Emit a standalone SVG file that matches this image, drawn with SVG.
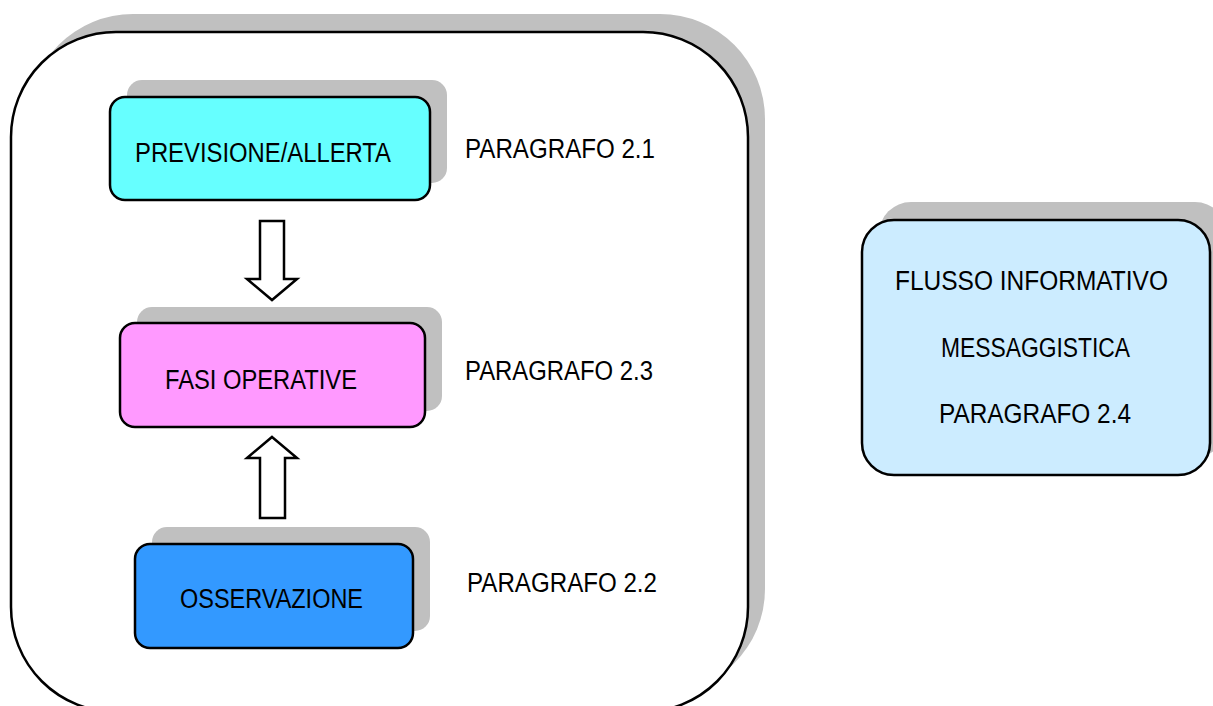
<svg xmlns="http://www.w3.org/2000/svg" width="1213" height="706" viewBox="0 0 1213 706">
<style>
.shadow{fill:#C0C0C0;stroke:none}
.box{stroke:#000;stroke-width:2.5}
.lbl{font-family:"Liberation Sans",Arial,sans-serif;font-size:27px;fill:#000}
.arrow{fill:#fff;stroke:#000;stroke-width:2.5;stroke-linejoin:miter}
</style>
<rect width="1213" height="706" fill="#fff"/>
<g id="container">
<rect class="shadow" x="28" y="14" width="737" height="680" rx="105" ry="105"/>
<rect class="box" x="11" y="32" width="737" height="680" rx="105" ry="105" fill="#fff"/>
</g>
<g id="previsione">
<rect class="shadow" x="127" y="80" width="320" height="103" rx="15"/>
<rect class="box" x="110" y="97" width="320" height="103" rx="15" fill="#66FFFF"/>
<text class="lbl" x="135" y="162" textLength="256" lengthAdjust="spacingAndGlyphs">PREVISIONE/ALLERTA</text>
</g>
<g id="par21"><text class="lbl" x="465" y="158" textLength="190" lengthAdjust="spacingAndGlyphs">PARAGRAFO 2.1</text></g>
<g id="fasi">
<rect class="shadow" x="137" y="307" width="305" height="104" rx="15"/>
<rect class="box" x="120" y="323" width="305" height="104" rx="15" fill="#FF99FF"/>
<text class="lbl" x="165" y="389" textLength="192" lengthAdjust="spacingAndGlyphs">FASI OPERATIVE</text>
</g>
<g id="par23"><text class="lbl" x="465" y="380" textLength="188" lengthAdjust="spacingAndGlyphs">PARAGRAFO 2.3</text></g>
<g id="osservazione">
<rect class="shadow" x="152" y="527" width="278" height="104" rx="15"/>
<rect class="box" x="135" y="544" width="278" height="104" rx="15" fill="#3399FF"/>
<text class="lbl" x="180" y="608" textLength="183" lengthAdjust="spacingAndGlyphs">OSSERVAZIONE</text>
</g>
<g id="par22"><text class="lbl" x="467" y="592" textLength="190" lengthAdjust="spacingAndGlyphs">PARAGRAFO 2.2</text></g>
<g id="flusso">
<rect class="shadow" x="879" y="202" width="348" height="255" rx="32"/>
<rect class="box" x="862" y="220" width="348" height="255" rx="32" fill="#CCECFF"/>
<text class="lbl" x="895" y="290" textLength="273" lengthAdjust="spacingAndGlyphs">FLUSSO INFORMATIVO</text>
<text class="lbl" x="941" y="357" textLength="189" lengthAdjust="spacingAndGlyphs">MESSAGGISTICA</text>
<text class="lbl" x="939" y="423" textLength="192" lengthAdjust="spacingAndGlyphs">PARAGRAFO 2.4</text>
</g>
<g id="connectors">
<path class="arrow" d="M260,221 L284,221 L284,279 L297,279 L272,300 L247,279 L260,279 Z"/>
<path class="arrow" d="M272,437 L297,458 L285,458 L285,518 L260,518 L260,458 L247,458 Z"/>
</g>
</svg>
